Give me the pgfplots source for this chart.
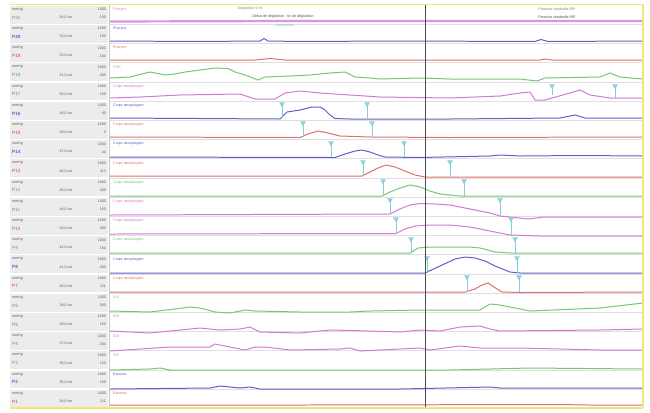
\documentclass[border=0pt]{standalone}
\usepackage{pgfplots}
\pgfplotsset{compat=1.18}
\usepackage{fontspec}
\setmainfont{Liberation Sans}
\definecolor{mag}{RGB}{212,120,215}
\definecolor{blu}{RGB}{95,95,200}
\definecolor{red}{RGB}{222,112,112}
\definecolor{grn}{RGB}{115,200,115}
\definecolor{cyn}{RGB}{135,205,215}
\definecolor{ylw}{RGB}{242,230,120}
\definecolor{pan}{RGB}{236,236,236}
\newcommand{\tf}{\fontsize{3.6}{4}\selectfont}
\newcommand{\lf}{\fontsize{4.6}{5}\selectfont\bfseries}
\begin{document}
\begin{tikzpicture}
\begin{scope}[yshift=412bp,x=1bp,y=-1bp]
\fill[white] (0,0) rectangle (650,412);
\foreach \i/\lab/\col/\cm/\val/\zone in {
0/P21/mag/{54,0 cm}/100/Pharynx,
1/P20/blu/{53,0 cm}/100/Pharynx,
2/P19/red/{52,0 cm}/100/Pharynx,
3/P18/grn/{51,0 cm}/200/SSO,
4/P17/mag/{50,0 cm}/150/Corps œsophagien,
5/P16/blu/{49,0 cm}/40/Corps œsophagien,
6/P15/red/{48,0 cm}/0/Corps œsophagien,
7/P14/blu/{47,0 cm}/40/Corps œsophagien,
8/P13/red/{46,0 cm}/113/Corps œsophagien,
9/P12/grn/{45,0 cm}/200/Corps œsophagien,
10/P11/mag/{44,0 cm}/150/Corps œsophagien,
11/P10/mag/{43,0 cm}/300/Corps œsophagien,
12/P9/grn/{42,0 cm}/150/Corps œsophagien,
13/P8/blu/{41,0 cm}/200/Corps œsophagien,
14/P7/red/{40,0 cm}/211/Corps œsophagien,
15/P6/grn/{39,0 cm}/200/SIO,
16/P5/mag/{38,0 cm}/150/SIO,
17/P4/mag/{37,0 cm}/200/SIO,
18/P3/grn/{36,0 cm}/150/SIO,
19/P2/blu/{35,0 cm}/150/Estomac,
20/P1/red/{34,0 cm}/211/Estomac}
{
\pgfmathsetmacro\t{5+19.2*\i}
\fill[pan] (10,\t+0.7) rectangle (108,\t+18.5);
\node[anchor=west,inner sep=0,text=gray!70!black] at (12,\t+4.5) {\tf mmHg};
\node[anchor=east,inner sep=0,text=gray!70!black] at (106,\t+4.5) {\tf 1000};
\node[anchor=west,inner sep=0,text=\col] at (12,\t+12.5) {\lf \lab};
\node[anchor=center,inner sep=0,text=gray!70!black] at (66,\t+12.5) {\tf \cm};
\node[anchor=east,inner sep=0,text=gray!70!black] at (106,\t+12.5) {\tf \val};
\node[anchor=west,inner sep=0,text=\col] at (113,\t+4.5) {\tf \zone};
\ifnum\i>0 \draw[gray!25,line width=0.6] (110,\t) -- (643,\t);\fi
}
\draw[gray!45,line width=0.8] (109,5) -- (109,408);
\end{scope}
\begin{axis}[scale only axis,width=650bp,height=412bp,xmin=0,xmax=650,ymin=0,ymax=412,
 y dir=reverse,hide axis,clip=false,every axis plot/.append style={line width=1.0}]
\addplot[mag!80,line width=2.2] coordinates {(110,21.5)(300,21)(643,21)};
\addplot[blu] coordinates {(110,41)(200,41.5)(260,41)(264,38.5)(268,41)(300,41.5)(400,41)(535,41.5)(541,39.5)(548,41.5)(643,41)};
\addplot[red] coordinates {(110,60)(255,60)(270,58.5)(285,60)(540,60)(545,59)(552,60)(643,60)};
\addplot[grn] coordinates {(110,78)(130,77)(150,72)(165,75)(175,74)(185,72)(200,70)(215,68)(228,68.5)(235,72)(245,75)(258,80)(265,77)(290,76)(310,75)(330,73)(345,72)(355,77)(370,78)(380,79)(420,78)(450,79)(520,79)(537,81)(545,78)(600,77)(610,73)(620,77)(643,79)};
\addplot[mag] coordinates {(110,98)(140,97)(160,96)(180,95)(240,94)(255,99)(275,99)(285,93)(300,91)(320,93)(350,95)(380,97)(450,98)(500,96)(520,93)(530,92)(535,100)(545,100)(570,93)(580,90)(590,95)(610,98)(643,98)};
\addplot[blu] coordinates {(110,118)(200,118.5)(280,119)(287,112)(300,110)(312,107)(320,107)(325,110)(330,115)(335,118.5)(350,119)(450,119)(560,118)(575,115)(585,118)(643,118)};
\addplot[red] coordinates {(110,137)(300,137.5)(308,134)(318,131)(328,133)(340,136)(370,137)(450,137.5)(643,137)};
\addplot[blu] coordinates {(110,157)(335,157.5)(345,154)(355,151)(362,150)(370,152)(378,155)(385,157)(420,157.5)(490,156)(500,155)(520,156)(580,155.5)(643,156)};
\addplot[red] coordinates {(110,176)(362,176)(370,172)(378,168)(386,165)(395,167)(405,171)(415,175)(425,177)(460,177)(643,177)};
\addplot[grn] coordinates {(110,196)(382,196)(390,192)(400,188)(410,185)(420,187)(430,191)(440,194)(460,196)(643,196)};
\addplot[mag] coordinates {(110,215)(390,214)(400,209)(410,205)(420,203.5)(435,204)(450,205)(470,209)(490,213)(500,216)(528,219)(545,217)(643,217)};
\addplot[mag] coordinates {(110,234)(396,233.5)(405,229)(415,226)(430,225)(450,225)(470,227)(490,231)(510,235)(540,236)(643,236)};
\addplot[grn] coordinates {(110,253)(410,253)(418,248)(430,247)(470,247)(480,248)(495,252)(510,253)(643,253)};
\addplot[blu] coordinates {(110,273)(425,273)(440,266)(455,259)(465,257)(475,258)(485,261)(495,266)(510,272)(520,273)(643,273)};
\addplot[red] coordinates {(110,292)(465,292)(475,289)(482,285)(488,283)(494,287)(502,292)(520,292.5)(643,292)};
\addplot[grn] coordinates {(110,311)(150,312)(175,309)(190,307)(200,308)(215,312)(230,313)(245,310)(255,311)(300,312)(350,312)(370,311)(420,310)(480,310)(490,304)(500,305)(530,311)(600,308)(643,303)};
\addplot[mag] coordinates {(110,331)(150,333)(180,330)(200,328)(220,330)(240,329)(250,327)(260,332)(300,333)(330,330)(370,331)(400,332)(420,330)(440,331)(460,327)(480,326)(490,329)(500,331)(600,330)(643,329)};
\addplot[mag] coordinates {(110,351)(140,349)(170,347)(210,347)(215,344)(245,350)(255,347)(265,347)(290,350)(340,349)(350,348)(360,351)(380,350)(420,348)(430,350)(460,346)(480,348)(520,348)(600,350)(643,350)};
\addplot[grn] coordinates {(110,370)(150,369)(160,368)(170,370)(300,370)(450,370)(530,368)(643,369)};
\addplot[blu] coordinates {(110,389)(210,388)(220,386)(240,388)(250,387)(260,389)(400,389)(490,387)(500,388)(643,388)};
\addplot[red] coordinates {(110,405)(300,405)(560,404.5)(590,405)(643,405)};
\addplot[cyn,only marks,mark=triangle*,mark size=2.2,mark options={rotate=180,fill=cyn!70,draw=cyn},
 error bars/.cd,y dir=plus,y explicit,error bar style={cyn,line width=0.7},error mark=none]
 table[x=x,y=y,y error=e] {
x y e
552 86 9
615 86 12
282 104 14
367 104 14
303 123 14
372 123 14
331 143 14
404 143 14
363 162 14
450 162 15
383 181 15
464 181 16
390 200 14
500 200 16
396 219 15
511 219 16
411 239 14
515 239 15
427 258 15
517 258 15
467 277 15
519 277 15
};
\end{axis}
\begin{scope}[yshift=412bp,x=1bp,y=-1bp]
\draw[black!70,line width=0.9] (425,5) -- (425,408);
\draw[ylw,line width=1.6] (10,4.5) -- (643,4.5);
\draw[ylw,line width=1.6] (10,408) -- (643,408);
\draw[ylw,line width=1.2] (643,4.5) -- (643,408);
\node[inner sep=0,text=grn!80!black] at (250,9) {\tf Déglutition 5 ml};
\node[inner sep=0,text=black!70] at (283,17) {\tf Début de déglutition - fin de déglutition};
\node[inner sep=0,text=cyn!90!black] at (285,25) {\tf Contraction};
\node[inner sep=0,text=gray] at (557,9) {\tf Pression résiduelle IRP};
\node[inner sep=0,text=black!70] at (557,17) {\tf Pression résiduelle IRP};
\end{scope}
\end{tikzpicture}
\end{document}
